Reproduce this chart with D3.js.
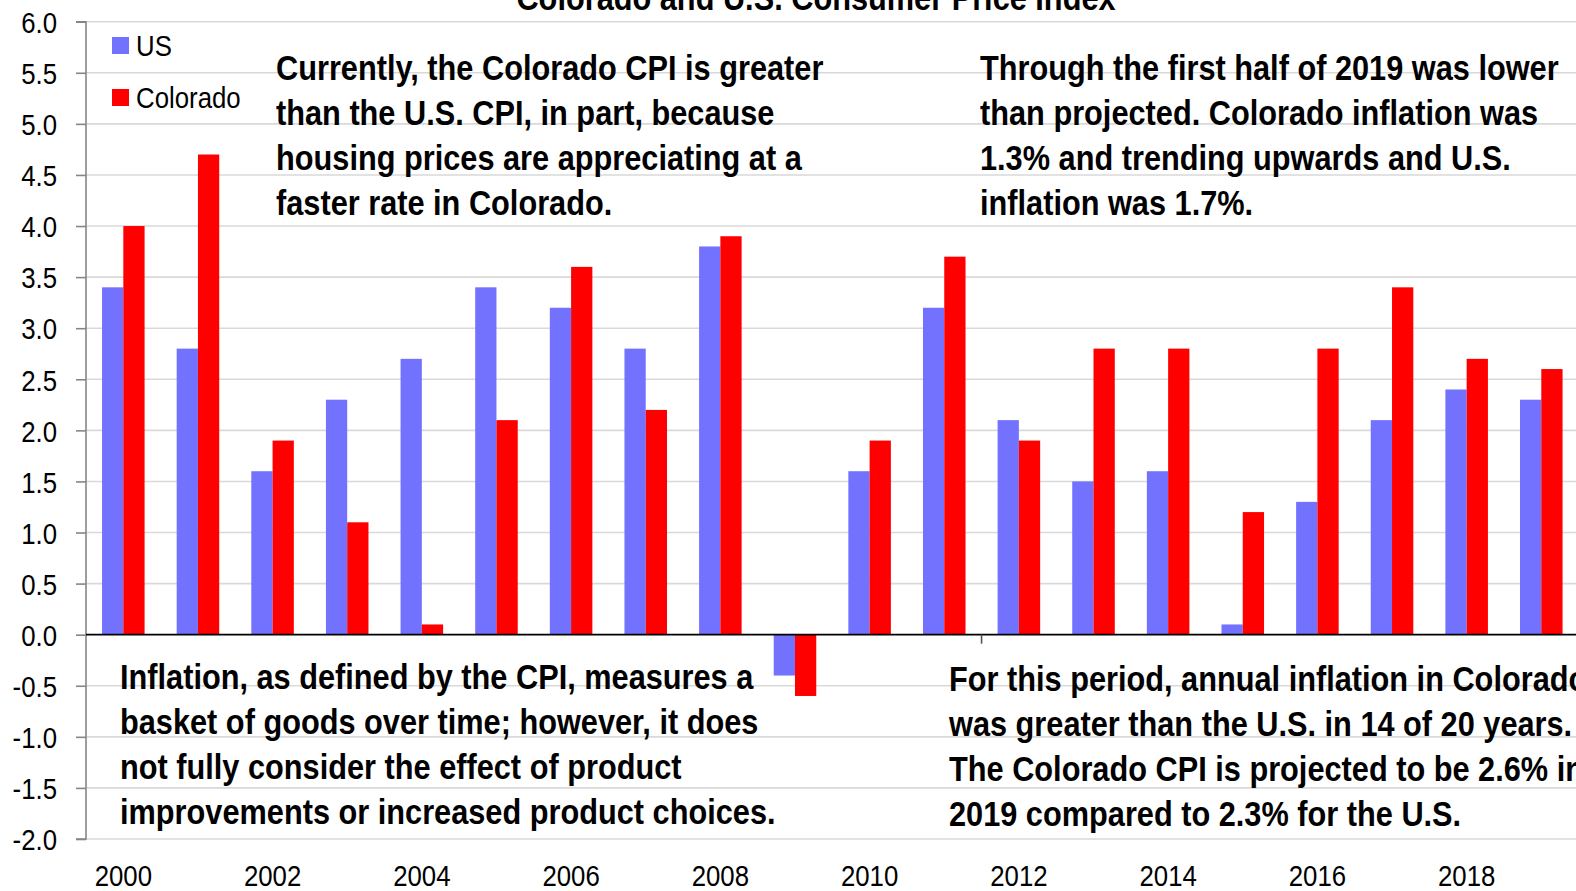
<!DOCTYPE html>
<html>
<head>
<meta charset="utf-8">
<script src="https://cdn.jsdelivr.net/npm/d3@7"></script>
<style>
  body { margin: 0; background: #fff; }
  svg { display: block; }
  text { font-family: "Liberation Sans", Arial, sans-serif; }
</style>
</head>
<body>
<svg id="chart"></svg>
<script>
var width = 1576;
var height = 891;
var narrow = 0.86;     // squeeze Arial-like glyphs to look like Arial Narrow
var narrowBold = 0.878;

// data
var years = ["2000","2001","2002","2003","2004","2005","2006","2007","2008","2009",
             "2010","2011","2012","2013","2014","2015","2016","2017","2018","2019"];
var usValues = [3.4, 2.8, 1.6, 2.3, 2.7, 3.4, 3.2, 2.8, 3.8, -0.4,
                1.6, 3.2, 2.1, 1.5, 1.6, 0.1, 1.3, 2.1, 2.4, 2.3];
var coValues = [4.0, 4.7, 1.9, 1.1, 0.1, 2.1, 3.6, 2.2, 3.9, -0.6,
                1.9, 3.7, 1.9, 2.8, 2.8, 1.2, 2.8, 3.4, 2.7, 2.6];
var seriesNames = ["US", "Colorado"];
var seriesColors = ["#7272FF", "#FF0000"];
var yTicks = [-2, -1.5, -1, -0.5, 0, 0.5, 1, 1.5, 2, 2.5, 3, 3.5, 4, 4.5, 5, 5.5, 6];
var xLabelYears = ["2000","2002","2004","2006","2008","2010","2012","2014","2016","2018"];

var title = "Colorado and U.S. Consumer Price Index";
var noteTopLeft = ["Currently, the Colorado CPI is greater",
                   "than the U.S. CPI, in part, because",
                   "housing prices are appreciating at a",
                   "faster rate in Colorado."];
var noteTopRight = ["Through the first half of 2019 was lower",
                    "than projected. Colorado inflation was",
                    "1.3% and trending upwards and U.S.",
                    "inflation was 1.7%."];
var noteBottomLeft = ["Inflation, as defined by the CPI, measures a",
                      "basket of goods over time; however, it does",
                      "not fully consider the effect of product",
                      "improvements or increased product choices."];
var noteBottomRight = ["For this period, annual inflation in Colorado",
                       "was greater than the U.S. in 14 of 20 years.",
                       "The Colorado CPI is projected to be 2.6% in",
                       "2019 compared to 2.3% for the U.S."];

var rows = years.map(function (y, i) {
  return { year: y, US: usValues[i], Colorado: coValues[i] };
});

var plotLeft = 86;
var step = 74.63;

var svg = d3.select("#chart")
  .attr("width", width)
  .attr("height", height);

var x = d3.scaleBand()
  .domain(years)
  .range([plotLeft, plotLeft + step * years.length])
  .paddingInner(0.43)
  .paddingOuter(0.215);

var xSub = d3.scaleBand()
  .domain(seriesNames)
  .range([0, x.bandwidth()]);

var y = d3.scaleLinear()
  .domain([-2, 6])
  .range([839, 21.7]);

var color = d3.scaleOrdinal().domain(seriesNames).range(seriesColors);

// narrow text helper
function ntext(parent, tx, ty, str, size, bold, anchor) {
  var s = bold ? narrowBold : narrow;
  return parent.append("g")
    .attr("transform", "translate(" + tx + "," + ty + ") scale(" + s + ",1)")
    .append("text")
    .attr("text-anchor", anchor || "start")
    .style("font-size", size + "px")
    .style("font-weight", bold ? "bold" : "normal")
    .style("fill", "#000")
    .text(str);
}

// gridlines
svg.append("g")
  .selectAll("line")
  .data(yTicks.filter(function (d) { return d !== 0; }))
  .enter().append("line")
  .attr("x1", plotLeft)
  .attr("x2", width)
  .attr("y1", function (d) { return y(d); })
  .attr("y2", function (d) { return y(d); })
  .style("stroke", "#d9d9d9")
  .style("stroke-width", 1.6);

// y axis
var yAxis = d3.axisLeft(y)
  .tickValues(yTicks)
  .tickFormat(function (d) { return d.toFixed(1); })
  .tickSize(10)
  .tickPadding(19);

var gy = svg.append("g")
  .attr("transform", "translate(" + plotLeft + ",0)")
  .call(yAxis);
gy.select(".domain").attr("d", "M-10," + y(6) + "H0V" + y(-2) + "H-10")
  .style("stroke", "#868686").style("stroke-width", 1.6).style("fill", "none");
gy.selectAll(".tick line").style("stroke", "#868686").style("stroke-width", 1.6);
gy.selectAll(".tick text")
  .attr("transform", "scale(" + narrow + ",1)")
  .attr("x", -29 / narrow)
  .attr("dy", "0.36em")
  .style("font-size", "30px")
  .style("fill", "#000");

// annotations (drawn before bars so the bars sit on top)
function note(lines, x0, y0) {
  lines.forEach(function (l, i) {
    ntext(svg, x0, y0 + i * 45, l, 35, true);
  });
}
note(noteTopLeft, 276, 80);
note(noteTopRight, 980, 80);
note(noteBottomLeft, 120, 689);
note(noteBottomRight, 949, 691);

// bars
var groups = svg.append("g")
  .selectAll("g")
  .data(rows)
  .enter().append("g")
  .attr("transform", function (d) { return "translate(" + x(d.year) + ",0)"; });

groups.selectAll("rect")
  .data(function (d) { return seriesNames.map(function (k) { return { key: k, value: d[k] }; }); })
  .enter().append("rect")
  .attr("x", function (d) { return xSub(d.key); })
  .attr("width", xSub.bandwidth())
  .attr("y", function (d) { return y(Math.max(0, d.value)); })
  .attr("height", function (d) { return Math.abs(y(d.value) - y(0)); })
  .style("fill", function (d) { return color(d.key); });

// x axis (zero line)
var xAxis = d3.axisBottom(x)
  .tickValues([])
  .tickSize(0);
var gx = svg.append("g")
  .attr("transform", "translate(0," + y(0) + ")")
  .call(xAxis);
gx.select(".domain").attr("d", "M" + plotLeft + ",0H" + width)
  .style("stroke", "#000").style("stroke-width", 1.6);
// tick mark between categories every 12
gx.append("line")
  .attr("x1", x.step() * 12 + plotLeft)
  .attr("x2", x.step() * 12 + plotLeft)
  .attr("y1", 0)
  .attr("y2", 9)
  .style("stroke", "#555")
  .style("stroke-width", 1.6);

// year labels
var gl = svg.append("g");
xLabelYears.forEach(function (d) {
  ntext(gl, x(d) + x.bandwidth() / 2, 886, d, 30, false, "middle");
});

// legend
var legend = svg.append("g");
seriesNames.forEach(function (k, i) {
  legend.append("rect")
    .attr("x", 112)
    .attr("y", 37 + i * 52)
    .attr("width", 17)
    .attr("height", 17)
    .style("fill", color(k));
  ntext(legend, 136, 56 + i * 52, k, 30, false);
});

// title, cut off at the top
ntext(svg, 816, 10, title, 35, true, "middle");
</script>
</body>
</html>
